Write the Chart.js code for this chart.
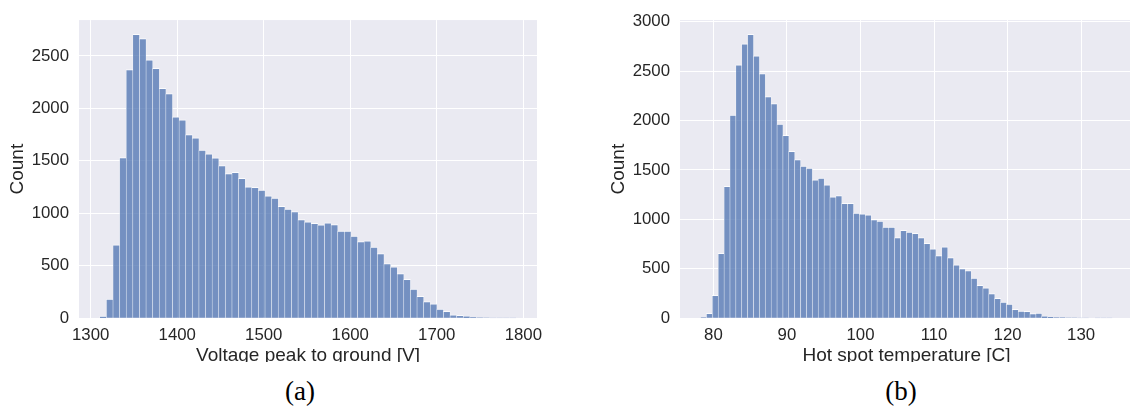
<!DOCTYPE html>
<html>
<head>
<meta charset="utf-8">
<script src="https://cdn.jsdelivr.net/npm/chart.js@4.4.1/dist/chart.umd.min.js"></script>
<style>
  html, body { margin: 0; padding: 0; background: #ffffff; width: 1130px; height: 410px; overflow: hidden; }
  .panel { position: absolute; top: 0; height: 362px; overflow: hidden; }
  .panel canvas { display: block; }
  .caption {
    position: absolute; top: 378px;
    font-family: 'Liberation Serif', 'Times New Roman', serif;
    font-size: 27px; line-height: 27px; color: #000000;
    transform: translateX(-50%); white-space: nowrap;
  }
</style>
</head>
<body>
<div class="panel" style="left:0;width:565px"><canvas id="voltage" width="565" height="380"></canvas></div>
<div class="panel" style="left:601px;width:532px"><canvas id="hotspot" width="532" height="380"></canvas></div>
<div class="caption" style="left:300px">(a)</div>
<div class="caption" style="left:901px">(b)</div>
<script>
// Histogram (a): voltage peak to ground, equal-width bins
const voltageBinStart = 1310.56;
const voltageBinWidth = 7.638;
const voltageCounts = [
  20, 184, 700, 1531, 2369, 2706, 2666, 2463, 2381, 2191,
  2141, 1919, 1891, 1750, 1719, 1603, 1566, 1528, 1456, 1378,
  1391, 1334, 1253, 1247, 1222, 1166, 1145, 1066, 1041, 1016,
  941, 919, 906, 891, 909, 894, 831, 831, 784, 731,
  738, 678, 616, 522, 491, 425, 372, 278, 209, 159,
  138, 88, 66, 34, 28, 22, 9, 6, 3, 1,
  1, 1, 1
];
const voltageTicks = [1300, 1400, 1500, 1600, 1700, 1800];
const voltageCountTicks = [0, 500, 1000, 1500, 2000, 2500];

// Histogram (b): hot spot temperature, equal-width bins
const hotspotBinStart = 78.26;
const hotspotBinWidth = 0.8;
const hotspotCounts = [
  7, 50, 233, 658, 1335, 2056, 2563, 2776, 2872, 2653,
  2474, 2242, 2172, 1963, 1850, 1688, 1605, 1539, 1519, 1399,
  1419, 1350, 1229, 1240, 1163, 1163, 1063, 1057, 1047, 997,
  983, 923, 923, 817, 890, 873, 860, 817, 757, 703,
  633, 723, 613, 540, 503, 483, 407, 333, 307, 250,
  203, 163, 143, 90, 73, 70, 47, 53, 23, 13,
  7, 10, 2, 3, 1, 1, 0, 1, 1, 1
];
const hotspotTicks = [80, 90, 100, 110, 120, 130];
const hotspotCountTicks = [0, 500, 1000, 1500, 2000, 2500, 3000];

const TEXT_COLOR = '#262626';
const FONT_FAMILY = "'Liberation Sans', Arial, sans-serif";

// Shaded plotting area behind grid and bars
const plotBackground = {
  id: 'plotBackground',
  beforeDraw(chart) {
    const { ctx, chartArea: { left, top, width, height } } = chart;
    ctx.save();
    ctx.fillStyle = '#eaeaf2';
    ctx.fillRect(left, top, width, height);
    ctx.restore();
  }
};

function histogram(canvasId, binStart, binWidth, counts, xTicks, yTicks, xTitle, rightPad) {
  const n = counts.length;
  const span = n * binWidth;
  const points = counts.map((c, i) => ({ x: binStart + (i + 0.5) * binWidth, y: c }));
  const fixedTicks = (list) => (scale) => { scale.ticks = list.map(v => ({ value: v })); };

  return new Chart(document.getElementById(canvasId), {
    type: 'bar',
    data: {
      datasets: [{
        data: points,
        backgroundColor: 'rgba(76, 114, 176, 0.75)',
        borderColor: 'rgba(255, 255, 255, 0.8)',
        borderWidth: { top: 1, left: 0.5, right: 0.5, bottom: 0 },
        borderSkipped: false,
        barPercentage: 1,
        categoryPercentage: 1
      }]
    },
    options: {
      responsive: false,
      animation: false,
      events: [],
      layout: { padding: { top: 15, bottom: 12.9, left: 0, right: rightPad } },
      plugins: { legend: { display: false }, tooltip: { enabled: false } },
      scales: {
        x: {
          type: 'linear',
          offset: false,
          bounds: 'data',
          min: binStart - 0.05 * span,
          max: binStart + 1.05 * span,
          afterBuildTicks: fixedTicks(xTicks),
          afterFit: (scale) => { scale.height = 48.8; },
          grid: { color: '#ffffff', lineWidth: 1, drawTicks: false, offset: false },
          border: { display: false },
          ticks: {
            padding: 7.4,
            color: TEXT_COLOR,
            font: { family: FONT_FAMILY, size: 16.8 },
            maxRotation: 0,
            autoSkip: false,
            callback: (v) => String(v)
          },
          title: {
            display: true,
            text: xTitle,
            color: TEXT_COLOR,
            font: { family: FONT_FAMILY, size: 19 },
            padding: { top: 0, bottom: 0 }
          }
        },
        y: {
          min: 0,
          max: Math.max(...counts) * 1.05,
          afterBuildTicks: fixedTicks(yTicks),
          afterFit: (scale) => { scale.width = 79; },
          grid: { color: '#ffffff', lineWidth: 1, drawTicks: false },
          border: { display: false },
          ticks: {
            padding: 10,
            color: TEXT_COLOR,
            font: { family: FONT_FAMILY, size: 16.8 },
            callback: (v) => String(v)
          },
          title: {
            display: true,
            text: 'Count',
            color: TEXT_COLOR,
            font: { family: FONT_FAMILY, size: 19 },
            padding: { top: 6.7, bottom: 0 }
          }
        }
      }
    },
    plugins: [plotBackground]
  });
}

histogram('voltage', voltageBinStart, voltageBinWidth, voltageCounts,
  voltageTicks, voltageCountTicks, 'Voltage peak to ground [V]', 28);
histogram('hotspot', hotspotBinStart, hotspotBinWidth, hotspotCounts,
  hotspotTicks, hotspotCountTicks, 'Hot spot temperature [C]', 0);
</script>
</body>
</html>
